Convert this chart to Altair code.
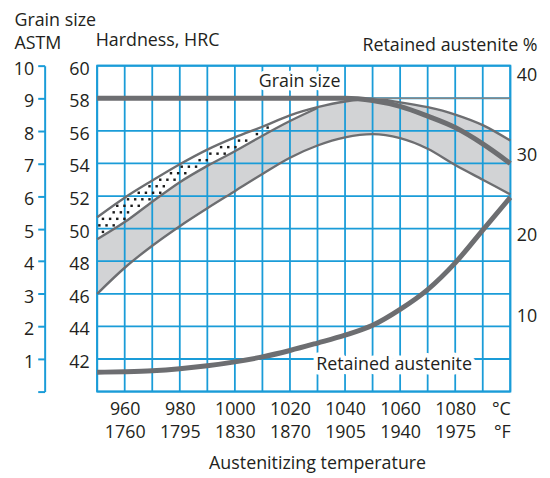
import altair as alt
import pandas as pd
import numpy as np

# ---------------- data ----------------
temp_c = [950, 960, 970, 980, 990, 1000, 1010, 1020, 1030, 1040, 1050, 1060, 1070, 1080, 1090, 1100]
hrc_upper = [50.7, 51.9, 52.95, 53.95, 54.85, 55.6, 56.25, 56.95, 57.45, 57.8, 57.95, 57.75, 57.45, 57.0, 56.35, 55.4]
hrc_middle = [49.35, 50.4, 51.65, 52.85, 53.85, 54.75, 55.7, 56.6, 57.4, 57.8, 57.95, 57.75, 57.45, 57.0, 56.35, 55.4]
hrc_lower = [46.0, 47.6, 48.95, 50.15, 51.25, 52.3, 53.35, 54.35, 55.1, 55.6, 55.8, 55.55, 54.9, 53.9, 53.0, 52.1]
grain_astm = [9.0, 9.0, 9.0, 9.0, 9.0, 9.0, 9.0, 9.0, 9.0, 9.0, 8.93, 8.75, 8.45, 8.1, 7.6, 7.0]
retained_austenite = [3.15, 3.21, 3.33, 3.58, 3.95, 4.44, 5.06, 5.86, 6.79, 7.77, 9.01, 10.99, 13.45, 16.78, 20.86, 24.93]
middle_end = 1030

grain_ref_temp = [1040, 1100]
grain_ref_value = [9.0, 9.0]

grid_temps = [950, 960, 970, 980, 990, 1000, 1010, 1020, 1030, 1040, 1050, 1060, 1070, 1080, 1090, 1100]
x_label_values = [960, 980, 1000, 1020, 1040, 1060, 1080, 1100]
x_labels_c = ["960", "980", "1000", "1020", "1040", "1060", "1080", "°C"]
x_labels_f = ["1760", "1795", "1830", "1870", "1905", "1940", "1975", "°F"]
hrc_ticks = [40, 42, 44, 46, 48, 50, 52, 54, 56, 58, 60]
grain_ticks = [0, 1, 2, 3, 4, 5, 6, 7, 8, 9, 10]
ra_ticks = [10, 20, 30, 40]

note_grain = ["Grain size"]
note_grain_t = [1023.5]
note_grain_v = [9.5]
note_ra = ["Retained austenite"]
note_ra_t = [1057.8]
note_ra_v = [4.1]

# ---------------- style ----------------
BLUE = "#1a9cd8"
LINE = "#6d6e71"
FILL = "#d2d3d5"
TEXT = "#231f20"
FONT = "Open Sans"
FS = 18

df = pd.DataFrame({"T": temp_c, "upper": hrc_upper, "middle": hrc_middle,
                   "lower": hrc_lower, "grain": grain_astm, "ra": retained_austenite})

rows = []
for name, vals in [("upper", hrc_upper), ("middle", hrc_middle), ("lower", hrc_lower)]:
    for t, v in zip(temp_c, vals):
        if name == "middle" and t > middle_end:
            continue
        rows.append({"T": t, "hrc": v, "curve": name})
curves_df = pd.DataFrame(rows)

# stipple texture for the band between the upper and middle curves
dots = []
for i, h in enumerate(np.arange(48.6, 58.5, 0.4)):
    shift = 1.3 if i % 2 else 0.0
    for t in np.arange(950.8 + shift, middle_end, 2.6):
        up = np.interp(t, temp_c, hrc_upper)
        mid = np.interp(t, temp_c, hrc_middle)
        if mid + 0.17 < h < up - 0.17:
            dots.append({"T": float(t), "hrc": float(h)})
dots_df = pd.DataFrame(dots)

def js_list(items, quote=True):
    if quote:
        return "[" + ",".join("'" + s + "'" for s in items) + "]"
    return "[" + ",".join(str(s) for s in items) + "]"

vals_js = js_list(x_label_values, quote=False)
x_label_expr = (f"[{js_list(x_labels_c)}[indexof({vals_js}, datum.value)], "
                f"{js_list(x_labels_f)}[indexof({vals_js}, datum.value)]]")

x_scale = alt.Scale(domain=[950, 1100], nice=False, zero=False)
x_axis = alt.Axis(values=x_label_values, labelExpr=x_label_expr, ticks=False, domain=False,
                  grid=False, labelFontSize=FS, labelLineHeight=23, labelPadding=9,
                  title="Austenitizing temperature", titleFontSize=FS, titleFontWeight="normal",
                  titleX=222, titleY=78, titleBaseline="alphabetic")

def X():
    return alt.X("T:Q", scale=x_scale, axis=x_axis)

hrc_scale = alt.Scale(domain=[40, 60], nice=False, zero=False)
hrc_axis = alt.Axis(orient="left", values=hrc_ticks[1:], ticks=False, domain=False, grid=False,
                    labelPadding=8, labelFontSize=FS, labelOffset=3.5,
                    title="Hardness, HRC", titleAngle=0, titleAlign="left", titleX=-2, titleY=-20,
                    titleBaseline="alphabetic", titleFontSize=FS, titleFontWeight="normal")

def Yh(field):
    return alt.Y(field + ":Q", scale=hrc_scale, axis=hrc_axis)

grain_scale = alt.Scale(domain=[0, 10], nice=False, zero=False)
grain_axis = alt.Axis(orient="left", offset=53, values=grain_ticks,
                      labelExpr="datum.value == 0 ? '' : datum.label",
                      domainColor=BLUE, domainWidth=2, tickColor=BLUE, tickWidth=2, tickSize=7,
                      labelPadding=4, labelFontSize=FS, labelOffset=3.5, grid=False,
                      title=["Grain size", "ASTM"], titleAngle=0, titleAlign="left",
                      titleX=-31, titleY=-41, titleBaseline="alphabetic", titleLineHeight=24,
                      titleFontSize=FS, titleFontWeight="normal")

def Yg(field):
    return alt.Y(field + ":Q", scale=grain_scale, axis=grain_axis)

ra_scale = alt.Scale(domain=[0.74, 41.34], nice=False, zero=False)
ra_axis = alt.Axis(orient="right", values=ra_ticks, ticks=False, domain=False, grid=False,
                   labelPadding=6, labelFontSize=FS, labelOffset=-1,
                   title="Retained austenite %", titleAngle=0, titleAlign="right", titleX=27,
                   titleY=-15, titleBaseline="alphabetic", titleFontSize=FS, titleFontWeight="normal")

def Yr(field):
    return alt.Y(field + ":Q", scale=ra_scale, axis=ra_axis)

# ---------------- hardness layer ----------------
area = alt.Chart(df).mark_area(color=FILL, interpolate="monotone").encode(
    x=X(), y=Yh("lower"), y2=alt.Y2("middle"))
vgrid = alt.Chart(pd.DataFrame({"T": grid_temps})).mark_rule(color=BLUE, strokeWidth=1.8).encode(x=X())
hgrid = alt.Chart(pd.DataFrame({"hrc": hrc_ticks})).mark_rule(color=BLUE, strokeWidth=1.8).encode(y=Yh("hrc"))
stipple = alt.Chart(dots_df).mark_square(size=6, color="#1a1a1a", opacity=1).encode(x=X(), y=Yh("hrc"))
curves = alt.Chart(curves_df).mark_line(color=LINE, strokeWidth=2.4, interpolate="monotone").encode(
    x=X(), y=Yh("hrc"), detail="curve:N")
hrc_layer = alt.layer(area, vgrid, hgrid, stipple, curves)

# ---------------- grain size layer ----------------
grain_line = alt.Chart(df).mark_line(color=LINE, strokeWidth=5, interpolate="monotone").encode(
    x=X(), y=Yg("grain"))
grain_ref = alt.Chart(pd.DataFrame({"T": grain_ref_temp, "grain": grain_ref_value})).mark_line(
    color="#858585", strokeWidth=1.6).encode(x=X(), y=Yg("grain"))
gdf = pd.DataFrame({"T": note_grain_t, "grain": note_grain_v, "txt": note_grain})
grain_halo = alt.Chart(gdf).mark_text(font=FONT, fontSize=FS, color="white", stroke="white",
                                      strokeWidth=7, strokeJoin="round").encode(x=X(), y=Yg("grain"), text="txt:N")
grain_txt = alt.Chart(gdf).mark_text(font=FONT, fontSize=FS, color=TEXT).encode(
    x=X(), y=Yg("grain"), text="txt:N")
grain_layer = alt.layer(grain_ref, grain_line, grain_halo, grain_txt)

# ---------------- retained austenite layer ----------------
ra_line = alt.Chart(df).mark_line(color=LINE, strokeWidth=5, interpolate="monotone").encode(
    x=X(), y=Yr("ra"))
rdf = pd.DataFrame({"T": note_ra_t, "ra": note_ra_v, "txt": note_ra})
ra_halo = alt.Chart(rdf).mark_text(font=FONT, fontSize=FS, color="white", stroke="white",
                                   strokeWidth=9, strokeJoin="round").encode(x=X(), y=Yr("ra"), text="txt:N")
ra_txt = alt.Chart(rdf).mark_text(font=FONT, fontSize=FS, color=TEXT).encode(
    x=X(), y=Yr("ra"), text="txt:N")
ra_layer = alt.layer(ra_line, ra_halo, ra_txt)

chart = alt.layer(hrc_layer, grain_layer, ra_layer).resolve_scale(y="independent").properties(
    width=417, height=329,
    padding={"left": 5, "top": 1, "right": 5, "bottom": 0},
).configure_view(stroke=BLUE, strokeWidth=2).configure_axis(
    labelFont=FONT, titleFont=FONT, labelColor=TEXT, titleColor=TEXT)

chart.save("out.html", embed_options={"renderer": "svg", "actions": False})
